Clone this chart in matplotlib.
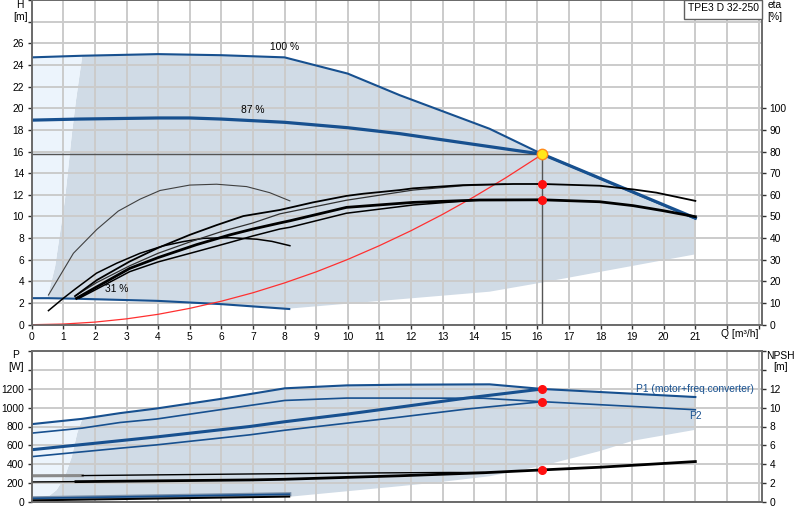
import matplotlib
matplotlib.use('Agg')
import matplotlib.pyplot as plt
from matplotlib.patches import Rectangle

# ---- head curves, Q [m3/h] / H [m]
q_100 = [0, 1.6, 4, 6, 8, 9, 10, 11.65, 14.49, 16.16, 21]
h_100 = [24.7, 24.85, 25.0, 24.9, 24.7, 23.95, 23.2, 21.2, 18.1, 15.75, 9.8]
q_87 = [0, 1.5, 4, 5, 6, 8, 10, 11.65, 16.16, 21]
h_87 = [18.9, 19.0, 19.1, 19.1, 19.0, 18.7, 18.2, 17.65, 15.75, 9.85]
q_31 = [0, 0.5, 1.4, 4, 6, 8.15]
h_31 = [2.45, 2.45, 2.4, 2.2, 1.9, 1.45]

# system curve
q_sys = [0, 1, 2, 3, 4, 5, 6, 7, 8, 9, 10, 11, 12, 13, 14, 15, 16.16]
h_sys = [0, 0.06, 0.24, 0.54, 0.96, 1.51, 2.17, 2.95, 3.86, 4.88, 6.03, 7.3, 8.68, 10.19, 11.82, 13.57, 15.75]

# duty point
q_duty = 16.16
h_duty = 15.75

# operating range outline (lower edge + left edge)
q_low = [21, 16.16, 14.49, 11.65, 8.2]
h_low = [6.5, 3.9, 3.05, 2.35, 1.5]
q_left = [0.5, 0.74, 1.05, 1.27, 1.4, 1.6]
h_left = [2.5, 5.36, 11.5, 17.6, 20.7, 24.85]

# ---- efficiency curves, eta [%]
q_e1 = [0.53, 1.32, 2.06, 2.74, 3.43, 4.06, 5.0, 5.85, 6.8, 7.53, 8.17]
e_e1 = [13.7, 33, 44, 52.5, 58, 62, 64.5, 64.9, 63.8, 61, 57.2]
q_e2 = [0.53, 1.0, 1.37, 2.05, 2.69, 3.43, 4.16, 4.8, 5.43, 6.27, 7.12, 7.6, 8.17]
e_e2 = [6.5, 12.2, 16.4, 23.8, 28.4, 33, 36.4, 38.4, 39.9, 40.2, 39.5, 38.5, 36.5]
q_a1 = [1.37, 2.06, 3.1, 4.0, 5.0, 5.85, 6.7, 7.85, 8.9, 9.96, 10.49, 11.65, 12.07, 13.65, 15.23, 16.16, 17.97, 19.03, 19.77, 21]
e_a1 = [13.2, 20.6, 29.2, 35.5, 41.5, 46, 50.2, 53, 56.5, 59.5, 60.5, 62.2, 63, 64.5, 65, 65, 64.2, 62.5, 61, 57.2]
q_a2 = [1.42, 2.06, 3.1, 4.0, 5.0, 6.0, 7.0, 7.85, 9.96, 12.07, 13.65, 15.0]
e_a2 = [13.7, 19.5, 27.2, 33, 38.2, 43, 47, 51.2, 57.5, 62.2, 64.2, 65]
q_b1 = [1.42, 2.0, 3.1, 4.0, 5.22, 6.27, 7.0, 7.85, 8.17, 9.96, 12.07, 14.18, 16.16, 17.97, 19.03, 19.97, 21]
e_b1 = [12.2, 17, 26, 31, 37, 41.5, 44.2, 47, 48, 54.2, 56.5, 57.6, 57.7, 56.8, 55, 52.7, 49.9]
q_b2 = [1.5, 2.0, 3.1, 4.0, 5.22, 6.27, 7.0, 7.85, 8.17, 9.96, 12.07, 14.0]
e_b2 = [12.2, 16, 24.5, 29, 33.8, 38, 41, 44.2, 45, 51.5, 55.3, 57.5]
eta_duty = [65, 57.7]

# ---- power curves, P [W]
q_p1_100 = [0, 1.6, 2.79, 3.95, 5.96, 8.01, 9.96, 11.65, 14.49, 16.16, 21]
p_p1_100 = [825, 881, 941, 990, 1090, 1203, 1234, 1241, 1245, 1196, 1111]
q_p2_100 = [0, 1.6, 2.79, 3.95, 5.96, 8.01, 9.96, 11.65, 14.3, 16.16, 21]
p_p2_100 = [730, 783, 842, 879, 977, 1075, 1100, 1100, 1098, 1062, 977]
q_p1_87 = [0, 2.79, 3.95, 6.9, 8.0, 9.96, 11.65, 13.76, 16.16]
p_p1_87 = [555, 650, 690, 800, 850, 930, 1005, 1100, 1196]
q_p2_87 = [0, 2.79, 3.95, 6.9, 8.0, 11.65, 13.76, 16.16]
p_p2_87 = [482, 571, 606, 712, 760, 899, 984, 1062]
q_p_31 = [0, 8.15]
p_p1_31 = [42, 85]
p_p2_31 = [20, 60]
p_duty = [1196, 1062]

q_plow = [21, 19.03, 17.97, 16.16, 14.49, 12.7, 11.65, 8.2]
p_plow = [765, 650, 540, 385, 275, 205, 170, 60]
q_pleft = [0.47, 0.79, 1.05, 1.27, 1.44, 1.6]
p_pleft = [45, 130, 271, 482, 730, 881]

# ---- NPSH [m]
q_n1 = [0, 1.6, 6.9, 10, 13.2, 14.3]
n_n1 = [2.8, 2.82, 2.99, 3.08, 3.15, 3.14]
q_n2 = [0, 1.4, 6.9, 8.0, 11.65, 14.3, 16.16, 17.97, 19.5, 21]
n_n2 = [2.15, 2.18, 2.36, 2.43, 2.8, 3.12, 3.42, 3.7, 4.0, 4.3]
npsh_duty = 3.42

BLUE = '#17508f'
SHADE = '#d0dbe6'
LIGHT = '#ecf4fc'
GRID = '#cbcbcb'
FS = 7.4

plt.rcParams['font.family'] = ['Liberation Sans', 'DejaVu Sans']
plt.rcParams['font.size'] = FS

W, H = 800, 520


def box(l, t, r, b):
    return [l / W, 1 - b / H, (r - l) / W, (b - t) / H]


def style(a):
    for s in a.spines.values():
        s.set_color('#6a6a6a')
        s.set_linewidth(1.2)
    a.tick_params(colors='#303030', labelcolor='black', length=3, width=1, labelsize=FS, pad=2.5)


fig = plt.figure(figsize=(8, 5.2), dpi=100)

# ================= head / efficiency
ax = fig.add_axes(box(31.7, 0, 761.7, 324.7))
ax.set_xlim(0, 23.1)
ax.set_ylim(0, 30)

# operating range
lo_q = [q for q in q_100 if q >= 1.6]
lo_h = [h for q, h in zip(q_100, h_100) if q >= 1.6]
poly_q = lo_q + q_low + q_31[::-1][:-1] + q_left
poly_h = lo_h + h_low + h_31[::-1][:-1] + h_left
ax.fill(poly_q, poly_h, color=SHADE, lw=0, zorder=1)
light_q = [0, 0.5] + q_left + [0]
light_h = [h_31[0], h_31[1]] + h_left + [h_100[0]]
ax.fill(light_q, light_h, color=LIGHT, lw=0, zorder=1)

ax.set_xticks(range(0, 24))
ax.set_xticklabels([str(i) if i <= 21 else '' for i in range(0, 24)])
ax.set_yticks(range(0, 31, 2))
ax.set_yticklabels([str(i) if i <= 26 else '' for i in range(0, 31, 2)])
ax.grid(True, color=GRID, lw=1.4)
style(ax)

ax.plot(q_100, h_100, color=BLUE, lw=1.5, zorder=3)
ax.plot(q_87, h_87, color=BLUE, lw=2.3, zorder=3)
ax.plot(q_31, h_31, color=BLUE, lw=1.5, zorder=3)
ax.plot(q_sys, h_sys, color='#ff3030', lw=0.9, zorder=3)
ax.plot([0, q_duty], [h_duty, h_duty], color='#555555', lw=1, zorder=2.5)
ax.plot([q_duty, q_duty], [0, h_duty], color='#555555', lw=1, zorder=2.5)

ax.text(8.0, 25.7, '100 %', ha='center', va='center', fontsize=FS)
ax.text(6.98, 19.85, '87 %', ha='center', va='center', fontsize=FS)
ax.text(2.69, 3.27, '31 %', ha='center', va='center', fontsize=FS)
ax.text(22.4, -0.86, 'Q [m³/h]', ha='center', va='center', fontsize=FS, clip_on=False)

axe = ax.twinx()
axe.set_ylim(0, 150)
axe.set_yticks(range(0, 101, 10))
style(axe)
axe.plot(q_e1, e_e1, color='#404040', lw=0.8)
axe.plot(q_e2, e_e2, color='black', lw=1.1)
axe.plot(q_a2, e_a2, color='#303030', lw=0.9)
axe.plot(q_b2, e_b2, color='black', lw=1.1)
axe.plot(q_a1, e_a1, color='black', lw=1.3)
axe.plot(q_b1, e_b1, color='black', lw=2.0)
axe.plot([q_duty] * 2, eta_duty, 'o', color='#ff1010', ms=5.5, zorder=5)
axe.plot([q_duty], [h_duty * 5], 'o', mfc='#ffe81a', mec='#ff8c1a', mew=1, ms=7.5, zorder=6)

fig.text(20 / W, 1 - 5 / H, 'H', ha='center', va='center', fontsize=FS)
fig.text(20 / W, 1 - 17 / H, '[m]', ha='center', va='center', fontsize=FS)
fig.text(775 / W, 1 - 5 / H, 'eta', ha='center', va='center', fontsize=FS)
fig.text(775 / W, 1 - 17 / H, '[%]', ha='center', va='center', fontsize=FS)

fig.patches.append(Rectangle((684.3 / W, 1 - 19.3 / H), 77.4 / W, 19.3 / H,
                             transform=fig.transFigure, fc='white', ec='#606060', lw=1))
fig.text(723 / W, 1 - 8 / H, 'TPE3 D 32-250', ha='center', va='center', fontsize=FS)

# ================= power / NPSH
bx = fig.add_axes(box(31.7, 350.7, 761.7, 502.3))
bx.set_xlim(0, 23.1)
bx.set_ylim(0, 1600)

lo_q = [q for q in q_p1_100 if q >= 1.6]
lo_p = [p for q, p in zip(q_p1_100, p_p1_100) if q >= 1.6]
poly_q = lo_q + q_plow + [8.15, 0.47] + q_pleft
poly_p = lo_p + p_plow + [p_p1_31[1], 45] + p_pleft
bx.fill(poly_q, poly_p, color=SHADE, lw=0, zorder=1)
light_q = [0] + q_pleft + [0]
light_p = [p_p1_31[0]] + p_pleft + [p_p1_100[0]]
bx.fill(light_q, light_p, color=LIGHT, lw=0, zorder=1)

bx.set_xticks(range(0, 24))
bx.set_xticklabels([])
bx.set_yticks(range(0, 1601, 200))
bx.set_yticklabels([str(i) if i <= 1200 else '' for i in range(0, 1601, 200)])
bx.grid(True, color=GRID, lw=1.4)
style(bx)
bx.tick_params(axis='x', length=0)

bx.plot(q_p1_100, p_p1_100, color=BLUE, lw=1.5, zorder=3)
bx.plot(q_p2_100, p_p2_100, color=BLUE, lw=1.2, zorder=3)
bx.plot(q_p1_87, p_p1_87, color=BLUE, lw=2.2, zorder=3)
bx.plot(q_p2_87, p_p2_87, color=BLUE, lw=1.2, zorder=3)
bx.plot(q_p_31, p_p1_31, color='#7a8fa8', lw=3, zorder=3)
bx.plot(q_p_31, p_p1_31, color=BLUE, lw=1.2, zorder=3)
bx.plot(q_p_31, p_p2_31, color='black', lw=1.4, zorder=3)
bx.plot([q_duty] * 2, p_duty, 'o', color='#ff1010', ms=5.5, zorder=5)

bx.text(21.0, 1199, 'P1 (motor+freq.converter)', ha='center', va='center', fontsize=FS, color=BLUE)
bx.text(21.0, 915, 'P2', ha='center', va='center', fontsize=FS, color=BLUE)

bn = bx.twinx()
bn.set_ylim(0, 16)
bn.set_yticks(range(0, 17, 2))
bn.set_yticklabels([str(i) if i <= 12 else '' for i in range(0, 17, 2)])
style(bn)
bn.plot(q_n1[:2], n_n1[:2], color='#8a8a8a', lw=2.2)
bn.plot(q_n1[1:], n_n1[1:], color='black', lw=1.0)
bn.plot(q_n2[:2], n_n2[:2], color='black', lw=1.0)
bn.plot(q_n2[1:], n_n2[1:], color='black', lw=2.0)
bn.plot([q_duty], [npsh_duty], 'o', color='#ff1010', ms=5.5, zorder=5)

fig.text(15.7 / W, 1 - 355 / H, 'P', ha='center', va='center', fontsize=FS)
fig.text(15.7 / W, 1 - 367 / H, '[W]', ha='center', va='center', fontsize=FS)
fig.text(780.5 / W, 1 - 355.8 / H, 'NPSH', ha='center', va='center', fontsize=FS)
fig.text(780 / W, 1 - 367 / H, '[m]', ha='center', va='center', fontsize=FS)

fig.savefig('out.png', dpi=100, facecolor='white')
